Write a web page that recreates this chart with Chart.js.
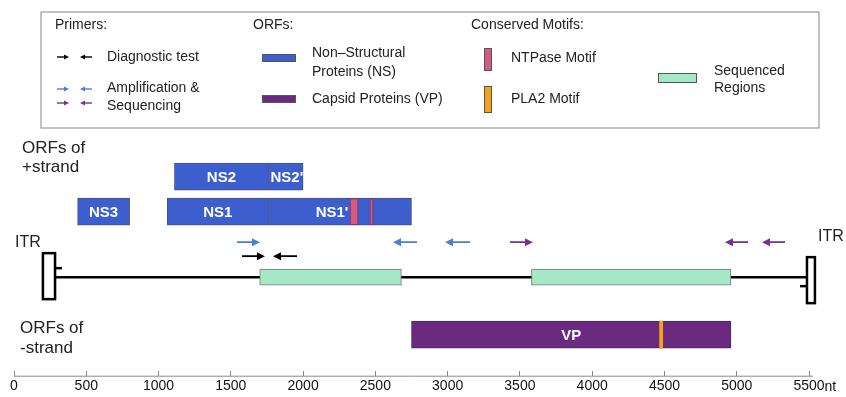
<!DOCTYPE html>
<html>
<head>
<meta charset="utf-8">
<script src="https://cdn.jsdelivr.net/npm/chart.js@4.4.1/dist/chart.umd.min.js"></script>
<style>
  html, body { margin: 0; padding: 0; background: #fff; }
</style>
</head>
<body>
<canvas id="genome" width="846" height="397"></canvas>
<script>
// positions in nt
const tickValues = [0, 500, 1000, 1500, 2000, 2500, 3000, 3500, 4000, 4500, 5000, 5500];
const axisUnit = 'nt';

const genomeStart = 284;
const genomeEnd = 5486;
const itrLeftStart = 200;
const itrRightEnd = 5541;

// ORFs on the + strand
const nsNames = ['NS3', 'NS1', "NS1'", 'NS2', "NS2'"];
const nsStart = [440, 1060, 1760, 1110, 1760];
const nsEnd = [800, 1760, 2750, 1760, 2000];
const nsTrack = ['orf1', 'orf1', 'orf1', 'orf2', 'orf2'];
const nsLabelAt = [620, 1410, 2200, 1435, 1888];

// ORF on the - strand
const vpNames = ['VP'];
const vpStart = [2750];
const vpEnd = [4960];

// conserved motifs
const ntpaseStart = [2325, 2463];
const ntpaseEnd = [2380, 2484];
const pla2Start = [4466];
const pla2End = [4488];

// sequenced regions
const seqStart = [1700, 3580];
const seqEnd = [2680, 4960];

// primers, drawn from tail (5') to head (3')
const ampFrom = [1543, 2788, 3155, 3431, 5078, 5334];
const ampTo = [1702, 2622, 2982, 3590, 4919, 5175];
const ampSet = ['blue', 'blue', 'blue', 'purple', 'purple', 'purple'];
const diagFrom = [1577, 1958];
const diagTo = [1736, 1792];

// layout
const trackY = { orf2: 176.5, orf1: 211.5, primer: 242, diag: 256, genome: 277, minus: 334.5 };
const FONT = "'Liberation Sans', Arial, Helvetica, sans-serif";
const C = {
  ns: '#3c5ecf', vp: '#692a80', ntpase: '#d35a80', pla2: '#f0a21c', seq: '#a5e8c8',
  blue: '#4a7fd8', purple: '#7b2f96', black: '#000'
};

const bars = (starts, ends, track) => starts.map((s, i) => ({
  x: [s, ends[i]], y: trackY[Array.isArray(track) ? track[i] : track]
}));

function arrow(ctx, x0, x1, y, color, head, lw) {
  const dir = Math.sign(x1 - x0);
  ctx.strokeStyle = color;
  ctx.fillStyle = color;
  ctx.lineWidth = lw;
  ctx.beginPath();
  ctx.moveTo(x0, y);
  ctx.lineTo(x1 - dir * head * 0.8, y);
  ctx.stroke();
  ctx.beginPath();
  ctx.moveTo(x1, y);
  ctx.lineTo(x1 - dir * head, y - head * 0.5);
  ctx.lineTo(x1 - dir * head, y + head * 0.5);
  ctx.closePath();
  ctx.fill();
}

const genomePlugin = {
  id: 'genomePlugin',
  beforeDatasetsDraw(chart) {
    const { ctx, scales: { x, y } } = chart;
    const gy = y.getPixelForValue(trackY.genome);
    const a = x.getPixelForValue(genomeStart);
    const b = x.getPixelForValue(genomeEnd);
    ctx.save();
    ctx.strokeStyle = '#000';
    ctx.lineWidth = 2.5;
    ctx.beginPath();
    ctx.moveTo(a, gy);
    ctx.lineTo(b, gy);
    ctx.stroke();
    // hairpin ITRs
    const l = x.getPixelForValue(itrLeftStart);
    ctx.strokeRect(l, gy - 24, a - l, 46);
    ctx.beginPath();
    ctx.moveTo(a, gy - 9);
    ctx.lineTo(a + 7, gy - 9);
    ctx.stroke();
    const r = x.getPixelForValue(itrRightEnd);
    ctx.strokeRect(b, gy - 20, r - b, 46);
    ctx.beginPath();
    ctx.moveTo(b, gy + 9);
    ctx.lineTo(b - 7, gy + 9);
    ctx.stroke();
    ctx.restore();
  },
  afterDatasetsDraw(chart) {
    const { ctx, scales: { x, y } } = chart;
    ctx.save();
    // primers
    ampFrom.forEach((f, i) => {
      arrow(ctx, x.getPixelForValue(f), x.getPixelForValue(ampTo[i]),
        y.getPixelForValue(trackY.primer), C[ampSet[i]], 8, 1.8);
    });
    diagFrom.forEach((f, i) => {
      arrow(ctx, x.getPixelForValue(f), x.getPixelForValue(diagTo[i]),
        y.getPixelForValue(trackY.diag), C.black, 8, 1.8);
    });
    // ORF names
    ctx.fillStyle = '#fff';
    ctx.font = 'bold 15px ' + FONT;
    ctx.textAlign = 'center';
    ctx.textBaseline = 'middle';
    nsNames.forEach((n, i) => {
      ctx.fillText(n, x.getPixelForValue(nsLabelAt[i]), y.getPixelForValue(trackY[nsTrack[i]]) + 1);
    });
    vpNames.forEach((n, i) => {
      ctx.fillText(n, x.getPixelForValue((vpStart[i] + vpEnd[i]) / 2), y.getPixelForValue(trackY.minus) + 1);
    });
    ctx.restore();
  },
  afterDraw(chart) {
    const { ctx, chartArea, scales: { x } } = chart;
    ctx.save();
    // axis line under the upward ticks
    const ay = chartArea.bottom + 5;
    ctx.strokeStyle = '#888';
    ctx.lineWidth = 1;
    ctx.beginPath();
    ctx.moveTo(x.getPixelForValue(0), ay);
    ctx.lineTo(x.getPixelForValue(tickValues[tickValues.length - 1]) + 4, ay);
    ctx.stroke();
    // unit after the last tick label
    ctx.font = '14px ' + FONT;
    ctx.fillStyle = '#111';
    ctx.textBaseline = 'middle';
    const last = tickValues[tickValues.length - 1];
    const w = ctx.measureText(String(last)).width;
    ctx.fillText(axisUnit, x.getPixelForValue(last) + w / 2, ay + 11);

    // side labels
    ctx.fillStyle = '#222';
    ctx.font = '17px ' + FONT;
    ctx.textAlign = 'left';
    ctx.fillText('ORFs of', 22, 148);
    ctx.fillText('+strand', 22, 167);
    ctx.fillText('ORFs of', 20, 328);
    ctx.fillText('-strand', 20, 348);
    ctx.font = '16px ' + FONT;
    ctx.fillText('ITR', 15, 243);
    ctx.fillText('ITR', 818, 237);

    // legend box
    ctx.strokeStyle = '#999';
    ctx.lineWidth = 1.2;
    ctx.strokeRect(41, 12, 778, 116);
    ctx.fillStyle = '#222';
    ctx.font = '14px ' + FONT;
    ctx.fillText('Primers:', 55, 25);
    ctx.fillText('Diagnostic test', 107, 57);
    ctx.fillText('Amplification &', 107, 88);
    ctx.fillText('Sequencing', 107, 106);
    ctx.fillText('ORFs:', 253, 25);
    ctx.fillText('Non\u2013Structural', 312, 53);
    ctx.fillText('Proteins (NS)', 312, 72);
    ctx.fillText('Capsid Proteins (VP)', 312, 99);
    ctx.fillText('Conserved Motifs:', 471, 25);
    ctx.fillText('NTPase Motif', 511, 58);
    ctx.fillText('PLA2 Motif', 511, 99);
    ctx.fillText('Sequenced', 714, 71);
    ctx.fillText('Regions', 714, 88);

    arrow(ctx, 57, 69, 57, C.black, 5, 1.4);
    arrow(ctx, 92, 80, 57, C.black, 5, 1.4);
    arrow(ctx, 57, 69, 89, C.blue, 5, 1.4);
    arrow(ctx, 92, 80, 89, C.blue, 5, 1.4);
    arrow(ctx, 57, 69, 103, C.purple, 5, 1.4);
    arrow(ctx, 92, 80, 103, C.purple, 5, 1.4);

    ctx.lineWidth = 1;
    ctx.strokeStyle = '#555';
    const swatch = (col, sx, sy, sw, sh) => {
      ctx.fillStyle = col;
      ctx.fillRect(sx, sy, sw, sh);
      ctx.strokeRect(sx + 0.5, sy + 0.5, sw - 1, sh - 1);
    };
    swatch(C.ns, 262, 54, 34, 8);
    swatch(C.vp, 262, 95, 34, 8);
    swatch(C.ntpase, 484, 48, 8, 23);
    swatch(C.pla2, 484, 86, 8, 27);
    swatch(C.seq, 658, 73, 39, 10);
    ctx.restore();
  }
};

new Chart(document.getElementById('genome'), {
  type: 'bar',
  data: {
    datasets: [
      { label: 'NTPase Motif', data: bars(ntpaseStart, ntpaseEnd, 'orf1'), backgroundColor: C.ntpase,
        borderColor: '#8a3560', borderWidth: 1, barThickness: 26 },
      { label: 'PLA2 Motif', data: bars(pla2Start, pla2End, 'minus'), backgroundColor: C.pla2,
        borderWidth: 0, barThickness: 27 },
      { label: 'Non-Structural Proteins (NS)', data: bars(nsStart, nsEnd, nsTrack), backgroundColor: C.ns,
        borderColor: '#4b4f7a', borderWidth: 1, barThickness: 27 },
      { label: 'Capsid Proteins (VP)', data: bars(vpStart, vpEnd, 'minus'), backgroundColor: C.vp,
        borderColor: '#4a2a58', borderWidth: 1, barThickness: 27 },
      { label: 'Sequenced Regions', data: bars(seqStart, seqEnd, 'genome'), backgroundColor: C.seq,
        borderColor: '#777', borderWidth: 1, barThickness: 16 }
    ]
  },
  options: {
    indexAxis: 'y',
    responsive: false,
    animation: false,
    datasets: { bar: { grouped: false, borderSkipped: false } },
    layout: { padding: { left: 14, right: 37, top: 0, bottom: 0 } },
    plugins: { legend: { display: false }, tooltip: { enabled: false } },
    scales: {
      x: {
        type: 'linear',
        min: 0,
        max: 5500,
        offset: false,
        afterBuildTicks: s => { s.ticks = tickValues.map(v => ({ value: v })); },
        ticks: { font: { size: 14, family: FONT }, color: '#111', padding: 2, maxRotation: 0, autoSkip: false,
          callback: v => String(v) },
        grid: { drawOnChartArea: false, tickLength: 5, color: '#888' },
        border: { display: false }
      },
      y: { type: 'linear', display: false, offset: false, min: 0, max: 371, reverse: true }
    }
  },
  plugins: [genomePlugin]
});
</script>
</body>
</html>
